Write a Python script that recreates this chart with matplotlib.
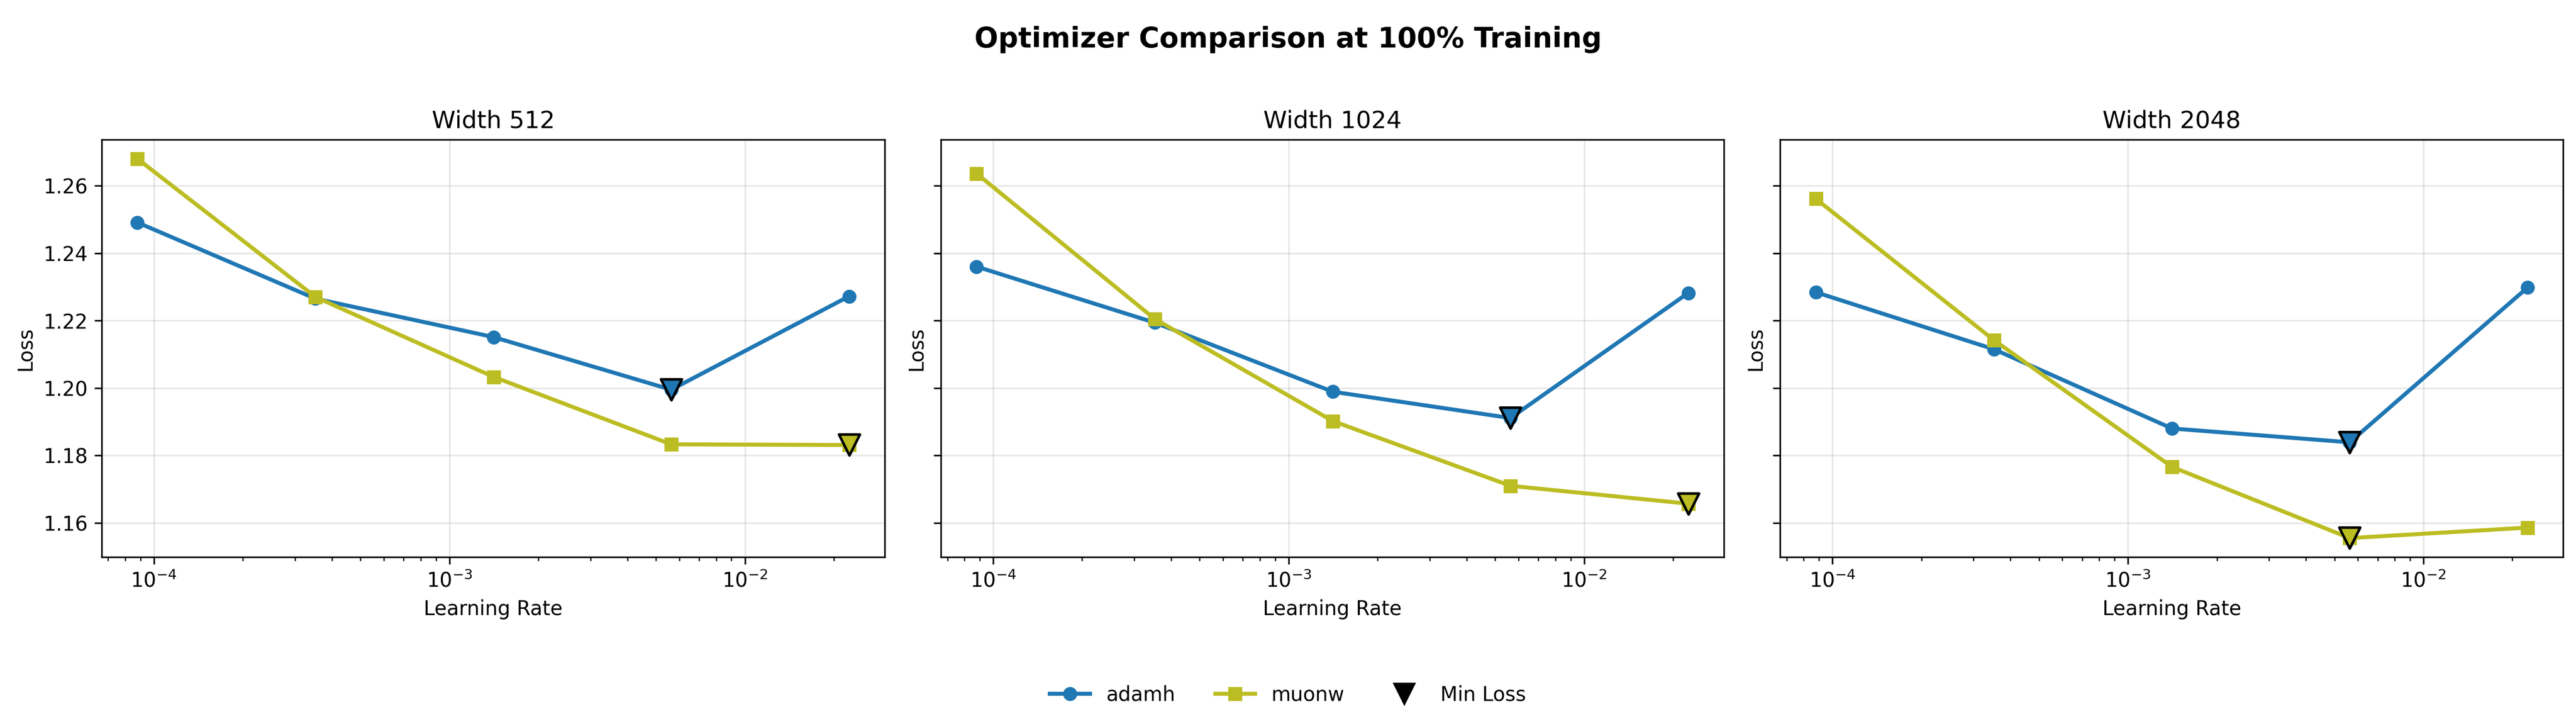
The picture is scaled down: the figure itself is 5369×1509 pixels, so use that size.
import matplotlib
matplotlib.use("Agg")
import matplotlib.pyplot as plt
from matplotlib.lines import Line2D

# learning rates (shared by every panel)
lrs = [8.79e-5, 3.52e-4, 1.41e-3, 5.63e-3, 2.25e-2]

widths = [512, 1024, 2048]

adamh_loss = [
    [1.2491, 1.2265, 1.2151, 1.1995, 1.2272],
    [1.2360, 1.2194, 1.1989, 1.1911, 1.2282],
    [1.2284, 1.2115, 1.1880, 1.1839, 1.2298],
]
muonw_loss = [
    [1.2680, 1.2270, 1.2033, 1.1833, 1.1831],
    [1.2636, 1.2205, 1.1902, 1.1710, 1.1657],
    [1.2561, 1.2142, 1.1766, 1.1555, 1.1586],
]

series = [("adamh", adamh_loss, "#1f77b4", "o"),
          ("muonw", muonw_loss, "#bcbd22", "s")]

fig, axes = plt.subplots(1, 3, figsize=(5369 / 300, 1509 / 300), dpi=300, sharey=True)
fig.subplots_adjust(left=0.0395, right=0.995, top=0.807, bottom=0.2306, wspace=0.072)

for i, ax in enumerate(axes):
    for name, data, color, marker in series:
        y = data[i]
        ax.plot(lrs, y, marker=marker, color=color, linewidth=2, markersize=6, label=name)
        # mark the minimum
        j = min(range(len(y)), key=lambda k: y[k])
        ax.scatter([lrs[j]], [y[j]], marker="v", s=110, color=color,
                   edgecolors="black", linewidths=1.3, zorder=5)
    ax.set_xscale("log")
    ax.set_title(f"Width {widths[i]}", fontsize=12)
    ax.set_xlabel("Learning Rate", fontsize=10)
    ax.set_ylabel("Loss", fontsize=10)
    ax.grid(True, alpha=0.3)

handles = [
    Line2D([], [], color="#1f77b4", marker="o", linewidth=2, markersize=6, label="adamh"),
    Line2D([], [], color="#bcbd22", marker="s", linewidth=2, markersize=6, label="muonw"),
    Line2D([], [], color="black", marker="v", linestyle="none", markersize=10, label="Min Loss"),
]
fig.legend(handles=handles, loc="center", bbox_to_anchor=(0.5, 0.04), ncol=3,
           frameon=False, fontsize=10)

fig.suptitle("Optimizer Comparison at 100% Training", fontsize=14, fontweight="bold", y=0.964)

fig.savefig("out.png", dpi=300)
